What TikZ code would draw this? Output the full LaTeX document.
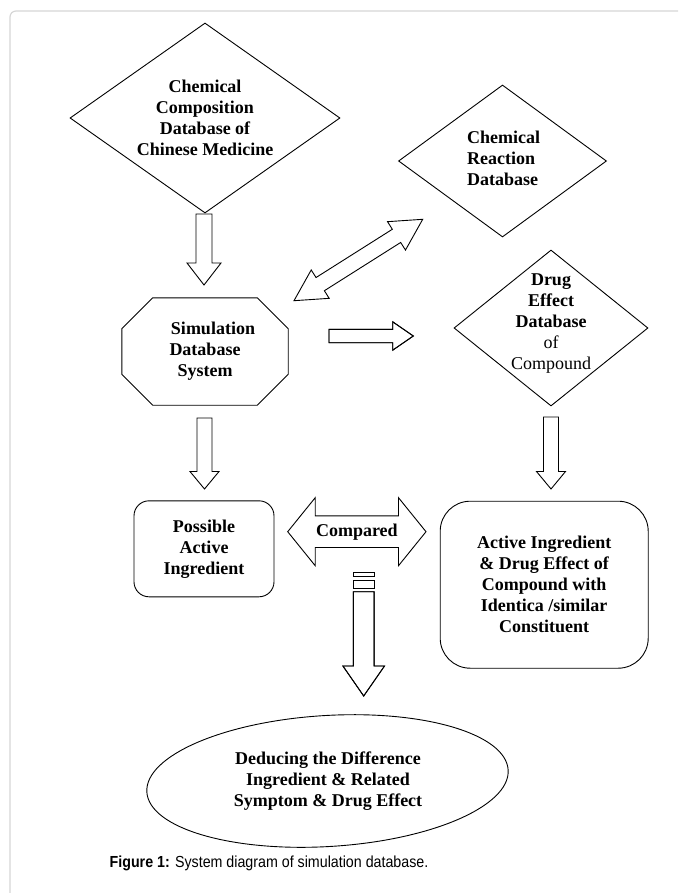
\documentclass[tikz,border=0pt]{standalone}
\usepackage{fontspec}
\setmainfont{Liberation Serif}
\newfontfamily\capfamily[FakeStretch=0.89]{Liberation Sans}
\usepackage{tikz}
\usetikzlibrary{calc,shapes.geometric,positioning}
\definecolor{framegray}{HTML}{D6D6D6}

\newcommand{\dbfont}{\fontsize{18}{21}\selectfont\bfseries}
\newcommand{\capfont}{\capfamily\fontsize{16}{19}\selectfont}

% hollow block arrow: start, tip, shaft half width, head half width, head length
\newcommand{\blockarrow}[5]{%
  \coordinate (hb) at ($(#2)!#5!(#1)$);
  \draw[blk] ($(#1)!#3!90:(#2)$) -- ($(hb)!#3!90:(#2)$) -- ($(hb)!#4!90:(#2)$) -- (#2)
    -- ($(hb)!#4!-90:(#2)$) -- ($(hb)!#3!-90:(#2)$) -- ($(#1)!#3!-90:(#2)$) -- cycle;
}
% same with a head at both ends
\newcommand{\dblockarrow}[5]{%
  \coordinate (ha) at ($(#1)!#5!(#2)$);
  \coordinate (hb) at ($(#2)!#5!(#1)$);
  \draw[blk] (#1) -- ($(ha)!#4!90:(#2)$) -- ($(ha)!#3!90:(#2)$) -- ($(hb)!#3!90:(#2)$)
    -- ($(hb)!#4!90:(#2)$) -- (#2) -- ($(hb)!#4!-90:(#2)$) -- ($(hb)!#3!-90:(#2)$)
    -- ($(ha)!#3!-90:(#2)$) -- ($(ha)!#4!-90:(#2)$) -- cycle;
}

\tikzset{
  txt/.style={font=\dbfont, align=center, inner sep=0pt},
  dia/.style={draw, diamond, line width=0.9pt, inner sep=0pt},
  rbox/.style={draw, rectangle, line width=0.9pt, rounded corners=#1, txt},
  blk/.style={line width=0.9pt, line join=miter}
}

\begin{document}
\begin{tikzpicture}[x=1pt,y=-1pt]
  \useasboundingbox (0,0) rectangle (678,893);
  %frame
  \draw[framegray, line width=1.2pt, rounded corners=6pt] (10,893) -- (10,11) -- (678,11);

  %databases
  \node[dia, minimum width=270pt, minimum height=190pt] (ccdb) at (205,118) {};
  \node[txt] (ccdbtxt) at (205,117.5)
    {Chemical\\Composition\hspace*{18pt}\\Database of\\Chinese Medicine};
  \node[dia, minimum width=208pt, minimum height=152pt] (crdb) at (502.5,161) {};
  \node[txt, align=left, anchor=west] (crdbtxt) at (467,158) {Chemical\\Reaction\\Database};
  \node[dia, minimum width=194pt, minimum height=156pt] (dedb) at (551,328) {};
  \node[txt] (dedbtxt) at (551,323.5) {Drug\\Effect\\Database\\\textmd{of}\\\textmd{Compound}};

  %simulation system
  \node[txt, minimum width=166pt, minimum height=107pt] (sim) at (205,351.5)
    {\hspace*{16pt}Simulation\\Database\\System};
  \draw[blk] ([xshift=31pt]sim.north west) -- ([xshift=-31pt]sim.north east)
    -- ([yshift=-31pt]sim.north east) -- ([yshift=31pt]sim.south east)
    -- ([xshift=-31pt]sim.south east) -- ([xshift=31pt]sim.south west)
    -- ([yshift=31pt]sim.south west) -- ([yshift=-31pt]sim.north west) -- cycle;

  %results
  \node[rbox=15pt, minimum width=140pt, minimum height=96pt] (pai) at (204,548.8)
    {Possible\\Active\\Ingredient};
  \node[rbox=30pt, minimum width=208pt, minimum height=167pt] (aidc) at (544.2,584.7)
    {Active Ingredient\\\& Drug Effect of\\Compound with\\Identica /similar\\Constituent};
  \node[draw, ellipse, line width=0.9pt, minimum width=362pt, minimum height=131pt,
    rotate=3.5] (ded) at (327.5,781) {};
  \node[txt] (dedtxt) at (328,781)
    {Deducing the Difference\\Ingredient \& Related\\Symptom \& Drug Effect};

  %arrow ends
  \coordinate (a1s) at (204,214);   \coordinate (a1e) at (204,285);
  \coordinate (a2s) at (204.5,418); \coordinate (a2e) at (204.5,489);
  \coordinate (a3s) at (551,417);   \coordinate (a3e) at (551,489);
  \coordinate (a4s) at (329,336);   \coordinate (a4e) at (413.3,336);
  \coordinate (a5s) at (363.7,591.7); \coordinate (a5e) at (363.7,696);
  \coordinate (d1s) at (294,300.7); \coordinate (d1e) at (422.7,219.3);
  \coordinate (c1s) at (287.7,531.7); \coordinate (c1e) at (426,531.7);

  %arrows
  \blockarrow{a1s}{a1e}{8pt}{17pt}{22pt}
  \foreach \s/\e in {a2s/a2e, a3s/a3e}
    \blockarrow{\s}{\e}{7.5pt}{14.5pt}{17.5pt}
  \blockarrow{a4s}{a4e}{6.7pt}{14.2pt}{20.6pt}
  \blockarrow{a5s}{a5e}{10.35pt}{20.8pt}{30pt}
  \draw[blk] ($(a5s)+(-10.35,-19)$) rectangle ($(a5s)+(10.35,-15.7)$);
  \draw[blk] ($(a5s)+(-10.35,-11)$) rectangle ($(a5s)+(10.35,-3.7)$);
  \dblockarrow{d1s}{d1e}{7.8pt}{16.8pt}{31pt}
  \dblockarrow{c1s}{c1e}{15.8pt}{34pt}{27.5pt}
  \node[txt] (cmp) at ($(c1s)!0.5!(c1e)$) {Compared};

  %caption
  \node[font=\capfont, inner sep=0pt] (cap) at (269,863)
    {\textbf{Figure 1:} System diagram of simulation database.};
\end{tikzpicture}
\end{document}
